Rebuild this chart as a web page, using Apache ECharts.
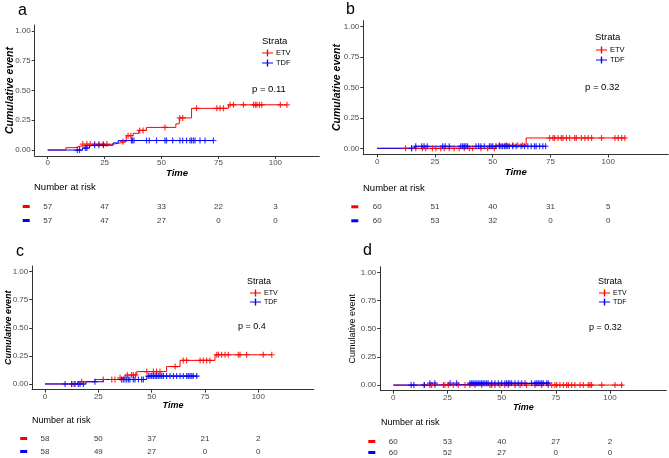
<!DOCTYPE html>
<html><head><meta charset="utf-8">
<script src="https://cdn.jsdelivr.net/npm/echarts@6/dist/echarts.min.js"></script>
<style>html,body{margin:0;padding:0;background:#fff}#c{width:669px;height:458px}</style>
</head><body><div id="c"></div>
<script>
// ---------- DATA ----------
const timeTicks = [0, 25, 50, 75, 100];
const yTicks = [0, 0.25, 0.5, 0.75, 1];
const strata = ['ETV', 'TDF'];

// Panel a
const aEtvT = [0, 8, 12, 15, 29, 32, 34.5, 37.5, 40, 43.4, 56.3, 57.8, 63.2, 79.4, 105];
const aEtvV = [0, 0.02, 0.035, 0.05, 0.06, 0.07, 0.12, 0.14, 0.165, 0.19, 0.22, 0.27, 0.35, 0.38, 0.38];
const aEtvCens = [15.4, 17.2, 18.7, 20.6, 22.5, 24.3, 26, 33, 35.3, 36.5, 40.4, 41.9, 51.5, 58, 59.3, 65.4, 74.3, 75.7, 77.2, 80.1, 81.6, 86, 90.4, 91.2, 91.9, 93, 94, 102.2, 105.1];
const aTdfT = [0, 15.3, 18.4, 28.7, 31, 72.8];
const aTdfV = [0, 0.017, 0.04, 0.06, 0.08, 0.08];
const aTdfCens = [13, 14, 16.5, 17.2, 20.6, 22.5, 24.5, 36.8, 37.2, 37.9, 43.4, 44.6, 47.8, 51.5, 52.2, 54.9, 58.1, 59.3, 61, 62.5, 63.2, 64, 64.7, 66.9, 69.1, 72.8];
const aRiskEtv = [57, 47, 33, 22, 3];
const aRiskTdf = [57, 47, 27, 0, 0];
const aP = 'p = 0.11';

// Panel b
const bEtvT = [0, 51.4, 64.5, 107.7];
const bEtvV = [0, 0.025, 0.085, 0.085];
const bEtvCens = [12.3, 14.9, 16.7, 19.6, 21, 23.9, 25.4, 27.5, 29, 31.2, 33.3, 35.5, 37.7, 39.9, 41.3, 44.9, 47.8, 50.7, 52.9, 55.8, 58.7, 60.9, 63, 74.6, 76.1, 76.8, 78.3, 79.7, 80.4, 81.9, 83.3, 85.5, 86.2, 88.4, 89.9, 91.3, 92.8, 97.1, 102.9, 104.3, 105.8, 107.2];
const bTdfT = [0, 16.2, 73.2];
const bTdfV = [0, 0.017, 0.017];
const bTdfCens = [14.9, 16.7, 19.3, 20.3, 21.7, 28.3, 29.4, 31.2, 36.2, 37, 37.7, 38.4, 39.1, 42.8, 43.9, 44.9, 46.4, 48.6, 49.3, 50, 51.4, 52.9, 53.6, 54.3, 55.1, 55.8, 56.5, 57.2, 58.7, 60.1, 62.3, 63.8, 65.2, 66.7, 68.1, 68.8, 70.3, 71.7, 72.9];
const bRiskEtv = [60, 51, 40, 31, 5];
const bRiskTdf = [60, 53, 32, 0, 0];
const bP = 'p = 0.32';

// Panel c
const cEtvT = [0, 15.2, 23.4, 34.8, 37.5, 43, 57, 63.3, 79.7, 106.3];
const cEtvV = [0, 0.02, 0.04, 0.055, 0.08, 0.11, 0.155, 0.21, 0.26, 0.26];
const cEtvCens = [12.5, 13.6, 17.2, 27.3, 31.3, 32.8, 35.2, 38.6, 40.6, 41.4, 42.5, 47.7, 50.8, 52.3, 53.9, 61, 64.8, 66.4, 72.7, 74.2, 75.8, 77.3, 80.5, 81.3, 82.8, 84.4, 85.9, 90.6, 91.4, 94.5, 102.3, 106.3];
const cTdfT = [0, 19.2, 27.3, 47.7, 71.9];
const cTdfV = [0, 0.02, 0.04, 0.07, 0.07];
const cTdfCens = [9.4, 12.5, 14.1, 15.6, 16.4, 18, 23.4, 35.9, 36.7, 37.5, 38.3, 39.1, 39.8, 41.4, 42.2, 43.8, 45.3, 46.1, 48.4, 49.2, 50, 50.8, 51.6, 52.3, 53.1, 53.9, 54.7, 55.5, 57, 58.6, 60.2, 61.7, 63.3, 64.8, 66.4, 67.2, 68, 68.8, 69.5, 71.1];
const cRiskEtv = [58, 50, 37, 21, 2];
const cRiskTdf = [58, 49, 27, 0, 0];
const cP = 'p = 0.4';

// Panel d
const dEtvT = [0, 106];
const dEtvV = [0, 0];
const dEtvCens = [14.3, 16.9, 17.7, 19.2, 23.1, 23.8, 25.4, 27.7, 30, 33.1, 35.4, 37.7, 40.8, 44.6, 45.4, 46.9, 49.2, 51.5, 53.1, 56.2, 58.5, 61.5, 65.4, 68.5, 71.5, 73.1, 74.6, 75.4, 76.9, 78.5, 80, 80.8, 82.3, 83.8, 86.2, 87.7, 90, 90.8, 91.5, 96.2, 102.3, 105.4];
const dTdfT = [0, 16.5, 72.3];
const dTdfV = [0, 0.017, 0.017];
const dTdfCens = [8.2, 9.5, 14.3, 16.9, 19.2, 26.2, 29.2, 35.4, 36.2, 36.9, 37.7, 38.5, 39.2, 40, 40.8, 41.5, 42.3, 43.1, 43.8, 45.4, 46.9, 48.5, 50, 51.5, 52.3, 53.1, 53.8, 54.6, 56.2, 57.7, 59.2, 60.8, 63.8, 65.4, 66.2, 66.9, 67.7, 68.5, 69.2, 70.8, 71.5];
const dRiskEtv = [60, 53, 40, 27, 2];
const dRiskTdf = [60, 52, 27, 0, 0];
const dP = 'p = 0.32';

// ---------- LAYOUT / STYLE ----------
const FONT = '"Liberation Sans", Arial, sans-serif';
const RED = '#FF0000', BLUE = '#0000FF', AX = '#333333', TXT = '#4D4D4D';
const CROSS = 'path://M0,4 L10,4 L10,6 L0,6 Z M4,0 L6,0 L6,10 L4,10 Z';
const LEGICON = 'path://M0,4.2 L16,4.2 L16,5.8 L0,5.8 Z M7,0 L9,0 L9,10 L7,10 Z';

const panels = [
  {letter:'a', etvT:aEtvT, etvV:aEtvV, etvC:aEtvCens, tdfT:aTdfT, tdfV:aTdfV, tdfC:aTdfCens, rE:aRiskEtv, rT:aRiskTdf, p:aP,
   L:{left:34.7, width:284.6, top:25, height:131, xmin:-5.7, xmax:119.3, yGap:19.5, xGap:12, yTitleF:10.5, yTitleBold:true, tickF:8,
      riskTop:199.5, riskH:28, letterPos:[18,3], strataPos:[262,36], legPos:[262,49], pPos:[252,84], narPos:[34,182], fs:9.5, legF:7.5}},
  {letter:'b', etvT:bEtvT, etvV:bEtvV, etvC:bEtvCens, tdfT:bTdfT, tdfV:bTdfV, tdfC:bTdfCens, rE:bRiskEtv, rT:bRiskTdf, p:bP,
   L:{left:363.3, width:305, top:20.6, height:133.8, xmin:-6, xmax:126, yGap:20.5, xGap:12.5, yTitleF:10.5, yTitleBold:true, tickF:8,
      riskTop:199.8, riskH:28, letterPos:[346,2], strataPos:[595,32], legPos:[596,46], pPos:[585,82], narPos:[363,183], fs:9.5, legF:7.5}},
  {letter:'c', etvT:cEtvT, etvV:cEtvV, etvC:cEtvCens, tdfT:cTdfT, tdfV:cTdfV, tdfC:cTdfCens, rE:cRiskEtv, rT:cRiskTdf, p:cP,
   L:{left:32.2, width:281.6, top:266, height:123.6, xmin:-6, xmax:126, yGap:19, xGap:10.5, yTitleF:9, yTitleBold:true, tickF:8,
      riskTop:432, riskH:27, letterPos:[16,244], strataPos:[247,277], legPos:[250,289.5], pPos:[238,322], narPos:[32,416], fs:9, legF:7}},
  {letter:'d', etvT:dEtvT, etvV:dEtvV, etvC:dEtvCens, tdfT:dTdfT, tdfV:dTdfV, tdfC:dTdfCens, rE:dRiskEtv, rT:dRiskTdf, p:dP,
   L:{left:380.3, width:286, top:266.7, height:124, xmin:-6, xmax:126, yGap:23, xGap:12.5, yTitleF:9, yTitleBold:false, tickF:8,
      riskTop:436, riskH:27, letterPos:[363,243], strataPos:[598,277], legPos:[599,289.5], pPos:[589,323], narPos:[381,418], fs:9, legF:7}}
];

function stepAt(T, V, t) {
  let v = V[0];
  for (let i = 0; i < T.length; i++) if (T[i] <= t) v = V[i];
  return v;
}

const grid = [], xAxis = [], yAxis = [], series = [], title = [], legend = [];

panels.forEach((P, k) => {
  const L = P.L;
  const gi = grid.length;
  grid.push({left: L.left, width: L.width, top: L.top, height: L.height, containLabel: false});
  xAxis.push({
    type: 'value', gridIndex: gi, min: L.xmin, max: L.xmax,
    name: 'Time', nameLocation: 'middle', nameGap: L.xGap,
    nameTextStyle: {fontFamily: FONT, fontSize: L.fs, fontWeight: 'bold', fontStyle: 'italic', color: '#000'},
    axisLine: {show: true, onZero: false, lineStyle: {color: AX, width: 1}},
    axisTick: {show: true, length: 3, lineStyle: {color: AX}, customValues: timeTicks},
    axisLabel: {fontFamily: FONT, fontSize: L.tickF, color: TXT, margin: 3, customValues: timeTicks, formatter: v => String(v)},
    splitLine: {show: false}
  });
  yAxis.push({
    type: 'value', gridIndex: gi, min: -0.05, max: 1.05,
    name: 'Cumulative event', nameLocation: 'middle', nameGap: L.yGap, nameMoveOverlap: false,
    nameTextStyle: {fontFamily: FONT, fontSize: L.yTitleF, fontWeight: L.yTitleBold ? 'bold' : 'normal',
                    fontStyle: L.yTitleBold ? 'italic' : 'normal', color: '#000'},
    axisLine: {show: true, onZero: false, lineStyle: {color: AX, width: 1}},
    axisTick: {show: true, length: 3, lineStyle: {color: AX}, customValues: yTicks},
    axisLabel: {fontFamily: FONT, fontSize: L.tickF, color: TXT, margin: 4, customValues: yTicks, formatter: v => v.toFixed(2)},
    splitLine: {show: false}
  });
  const mk = (T, V) => T.map((t, i) => [t, V[i]]);
  series.push({type: 'line', name: 'ETV', xAxisIndex: gi, yAxisIndex: gi, step: 'end', showSymbol: false,
    data: mk(P.etvT, P.etvV), lineStyle: {color: RED, width: 1}, itemStyle: {color: RED}, animation: false, silent: true, z: 2});
  series.push({type: 'line', name: 'TDF', xAxisIndex: gi, yAxisIndex: gi, step: 'end', showSymbol: false,
    data: mk(P.tdfT, P.tdfV), lineStyle: {color: BLUE, width: 1}, itemStyle: {color: BLUE}, animation: false, silent: true, z: 3});
  series.push({type: 'scatter', name: 'ETV', xAxisIndex: gi, yAxisIndex: gi, symbol: CROSS, symbolSize: 6,
    data: P.etvC.map(t => [t, stepAt(P.etvT, P.etvV, t)]), itemStyle: {color: RED}, animation: false, silent: true, z: 4});
  series.push({type: 'scatter', name: 'TDF', xAxisIndex: gi, yAxisIndex: gi, symbol: CROSS, symbolSize: 6,
    data: P.tdfC.map(t => [t, stepAt(P.tdfT, P.tdfV, t)]), itemStyle: {color: BLUE}, animation: false, silent: true, z: 5});

  // risk table grid
  const ri = grid.length;
  grid.push({left: L.left, width: L.width, top: L.riskTop, height: L.riskH, containLabel: false});
  xAxis.push({type: 'value', gridIndex: ri, min: L.xmin, max: L.xmax, show: false});
  yAxis.push({
    type: 'category', gridIndex: ri, data: strata, inverse: true,
    axisLine: {show: false}, axisTick: {show: false}, splitLine: {show: false},
    axisLabel: {show: true, interval: 0, margin: 5, formatter: v => v === 'ETV' ? '{r| }' : '{b| }',
      rich: {r: {backgroundColor: RED, width: 7, height: 3, fontSize: 3, lineHeight: 3},
             b: {backgroundColor: BLUE, width: 7, height: 3, fontSize: 3, lineHeight: 3}}}
  });
  const riskSeries = (vals, s) => ({
    type: 'scatter', name: 'risk' + s + k, xAxisIndex: ri, yAxisIndex: ri, symbolSize: 2,
    itemStyle: {color: 'rgba(0,0,0,0)'}, animation: false, silent: true,
    data: timeTicks.map((t, i) => ({value: [t, s], risk: vals[i]})),
    label: {show: true, position: 'inside', formatter: p => String(p.data.risk),
            fontFamily: FONT, fontSize: 8, color: '#000'}
  });
  series.push(riskSeries(P.rE, 'ETV'));
  series.push(riskSeries(P.rT, 'TDF'));

  // texts
  title.push({text: P.letter, left: L.letterPos[0], top: L.letterPos[1], padding: 0,
    textStyle: {fontFamily: FONT, fontSize: 16, fontWeight: 'normal', color: '#000'}});
  title.push({text: 'Strata', left: L.strataPos[0], top: L.strataPos[1], padding: 0,
    textStyle: {fontFamily: FONT, fontSize: L.fs, fontWeight: 'normal', color: '#000'}});
  title.push({text: P.p, left: L.pPos[0], top: L.pPos[1], padding: 0,
    textStyle: {fontFamily: FONT, fontSize: L.fs, fontWeight: 'normal', color: '#000'}});
  title.push({text: 'Number at risk', left: L.narPos[0], top: L.narPos[1], padding: 0,
    textStyle: {fontFamily: FONT, fontSize: L.fs, fontWeight: 'normal', color: '#000'}});

  legend.push({data: strata, orient: 'vertical', left: L.legPos[0], top: L.legPos[1], padding: 0,
    itemGap: 2, itemWidth: 11, itemHeight: 7, icon: LEGICON, selectedMode: false,
    textStyle: {fontFamily: FONT, fontSize: L.legF, color: '#000', padding: [0, 0, 0, -2]}});
});

const chart = echarts.init(document.getElementById('c'), null, {renderer: 'canvas'});
chart.setOption({animation: false, backgroundColor: '#fff', grid, xAxis, yAxis, series, title, legend});
</script></body></html>
